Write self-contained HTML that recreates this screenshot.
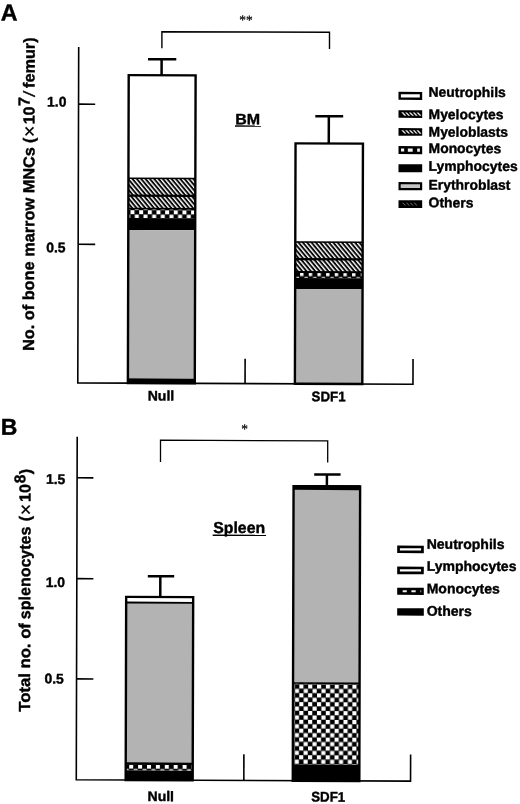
<!DOCTYPE html>
<html lang="en">
<head>
<meta charset="utf-8">
<title>Figure</title>
<style>
  html, body { margin: 0; padding: 0; background: #fff; }
  body { width: 520px; height: 804px; overflow: hidden; }
  svg { display: block; }
  text { font-family: "Liberation Sans", sans-serif; font-weight: bold; fill: #000; stroke: #000; stroke-width: 0.4px; stroke-linejoin: round; }
  .lg { font-size: 13.9px; }
  .tk { font-size: 13.9px; }
  .xl { font-size: 14px; }
  .ax { font-size: 16px; }
  .sup { font-size: 14px; }
  .ser { font-family: "Liberation Serif", serif; font-weight: normal; stroke-width: 0.25px; }
</style>
</head>
<body>
<svg width="520" height="804" viewBox="0 0 520 804">
  <defs>
    <pattern id="h1" width="3.34" height="3.34" patternUnits="userSpaceOnUse" patternTransform="translate(0 0) rotate(50)"><rect width="3.34" height="3.34" fill="#fff"/><rect width="3.34" height="1.937" fill="#0a0a0a"/></pattern>
    <pattern id="h2" width="3.34" height="3.34" patternUnits="userSpaceOnUse" patternTransform="translate(1.5 0) rotate(50)"><rect width="3.34" height="3.34" fill="#fff"/><rect width="3.34" height="1.937" fill="#0a0a0a"/></pattern>
    <pattern id="ckA1" x="129.99" y="210.71" width="8.66" height="8.66" patternUnits="userSpaceOnUse"><rect width="8.66" height="8.66" fill="#000"/><rect x="0" y="0" width="4.0" height="4.0" fill="#fff"/><rect x="4.33" y="4.33" width="4.0" height="4.0" fill="#fff"/></pattern>
    <pattern id="ckA2" x="299.76" y="272.53" width="8.66" height="8.66" patternUnits="userSpaceOnUse"><rect width="8.66" height="8.66" fill="#000"/><rect x="0" y="0" width="3.4" height="3.4" fill="#fff"/><rect x="4.33" y="4.33" width="3.4" height="3.4" fill="#fff"/></pattern>
    <pattern id="ckB1" x="130.18" y="765.12" width="8.9" height="8.9" patternUnits="userSpaceOnUse"><rect width="8.9" height="8.9" fill="#000"/><rect x="0" y="0" width="4.0" height="4.0" fill="#fff"/><rect x="4.45" y="4.45" width="4.0" height="4.0" fill="#fff"/></pattern>
    <pattern id="ckB2" x="300.09" y="684.26" width="8.85" height="8.85" patternUnits="userSpaceOnUse"><rect width="8.85" height="8.85" fill="#000"/><rect x="0" y="0" width="4.15" height="4.15" fill="#fff"/><rect x="4.425" y="4.425" width="4.15" height="4.15" fill="#fff"/></pattern>
  </defs>
  <g transform="matrix(1 0.004 -0.0027 1 1.0854 -1.0400)">

  <!-- ============ Panel A ============ -->
  <text x="-0.24" y="21.50" font-size="23.2">A</text>
  <g stroke="#000" stroke-width="1.6" fill="none">
    <path d="M77.74 47.63 V383.6 H412.92 V358.39"/>
    <path d="M77.74 104.89 H94.40"/>
    <path d="M77.74 244.99 H94.77"/>
    <path d="M245.01 358.71 V383.6"/>
    <path d="M160.95 48.69 L160.90 32.09 L328.50 31.92 L328.55 48.62" stroke-width="1.4"/>
  </g>
  <text class="ser" x="244.87" y="24.46" font-size="13.4" text-anchor="middle">**</text>
  <text class="tk" x="46.29" y="107.32">1.0</text>
  <text class="tk" x="45.88" y="253.02">0.5</text>
  <g class="ax" transform="translate(33.75 352.02) rotate(-90)">
    <text x="0" y="0" textLength="204.0" lengthAdjust="spacingAndGlyphs">No. of bone marrow MNCs</text>
    <text x="208.1" y="0">(</text>
    <text x="214.0" y="1.6" style="font-size:19.5px;font-weight:normal;stroke-width:0.3px">×</text>
    <text x="226.8" y="0">10</text>
    <text x="245.2" y="-5.0">7</text>
    <text transform="translate(254.2 0.3) skewX(-9)" style="font-size:16px;font-weight:normal;stroke-width:0.5px">/</text>
    <text x="263.1" y="0" textLength="50.6" lengthAdjust="spacingAndGlyphs">femur)</text>
  </g>
  <text x="234.54" y="124.35" font-size="15" textLength="24.9" lengthAdjust="spacingAndGlyphs">BM</text>
  <path d="M234.25 126.15 H260.25" stroke="#000" stroke-width="1.4"/>

  <g>
    <rect x="127.83" y="75.69" width="66.90" height="307.91" fill="#fff"/>
    <rect x="127.83" y="178.89" width="66.90" height="17.30" fill="url(#h1)"/>
    <rect x="127.83" y="196.19" width="66.90" height="12.70" fill="url(#h2)"/>
    <rect x="127.83" y="208.89" width="66.90" height="9.70" fill="url(#ckA1)"/>
    <rect x="127.83" y="218.59" width="66.90" height="12.00" fill="#000"/>
    <rect x="127.83" y="230.59" width="66.90" height="148.30" fill="#b3b3b3"/>
    <rect x="127.83" y="378.89" width="66.90" height="4.71" fill="#000"/>
    <path d="M127.83 178.79 H194.73" stroke="#000" stroke-width="1.4"/>
    <path d="M127.83 196.19 H194.73" stroke="#000" stroke-width="2.3"/>
    <path d="M127.83 209.09 H194.73" stroke="#000" stroke-width="1.6"/>
    <rect x="127.83" y="75.69" width="66.90" height="307.91" fill="none" stroke="#000" stroke-width="2.4"/>
    <path d="M160.70 75.69 V59.69 M147.07 59.69 H175.37" stroke="#000" stroke-width="2.5" fill="none"/>
  </g>
  <g>
    <rect x="294.85" y="143.21" width="67.40" height="240.39" fill="#fff"/>
    <rect x="294.85" y="241.71" width="67.40" height="17.30" fill="url(#h1)"/>
    <rect x="294.85" y="259.01" width="67.40" height="12.90" fill="url(#h2)"/>
    <rect x="294.85" y="271.91" width="67.40" height="6.00" fill="url(#ckA2)"/>
    <rect x="294.85" y="277.91" width="67.40" height="11.00" fill="#000"/>
    <rect x="294.85" y="288.91" width="67.40" height="94.69" fill="#b3b3b3"/>
    <path d="M294.85 241.91 H362.25" stroke="#000" stroke-width="1.5"/>
    <path d="M294.85 259.01 H362.25" stroke="#000" stroke-width="2.3"/>
    <path d="M294.85 271.91 H362.25" stroke="#000" stroke-width="2.0"/>
    <rect x="294.85" y="143.21" width="67.40" height="240.39" fill="none" stroke="#000" stroke-width="2.4"/>
    <path d="M328.07 143.21 V115.96 M314.53 115.96 H342.43" stroke="#000" stroke-width="2.5" fill="none"/>
  </g>
  <text class="xl" x="160.98" y="400.90" text-anchor="middle">Null</text>
  <text class="xl" x="328.58" y="400.93" text-anchor="middle" textLength="34" lengthAdjust="spacingAndGlyphs">SDF1</text>

  <g>
    <rect x="397.67" y="91.30" width="23.70" height="8.00" fill="#000"/><rect x="400.07" y="93.70" width="18.90" height="3.20" fill="#fff"/>
    <rect x="397.72" y="109.60" width="23.70" height="7.70" fill="#000"/><path d="M400.52 111.80 h1.9 l3.13 3.30 h-1.9 z" fill="#e8e8e8"/><path d="M404.32 111.80 h1.9 l3.13 3.30 h-1.9 z" fill="#e8e8e8"/><path d="M408.12 111.80 h1.9 l3.13 3.30 h-1.9 z" fill="#e8e8e8"/><path d="M411.92 111.80 h1.9 l3.13 3.30 h-1.9 z" fill="#e8e8e8"/><path d="M415.72 111.80 h1.9 l3.13 3.30 h-1.9 z" fill="#e8e8e8"/>
    <rect x="397.77" y="127.50" width="23.70" height="7.70" fill="#000"/><path d="M400.57 129.70 h1.9 l3.13 3.30 h-1.9 z" fill="#e8e8e8"/><path d="M404.37 129.70 h1.9 l3.13 3.30 h-1.9 z" fill="#e8e8e8"/><path d="M408.17 129.70 h1.9 l3.13 3.30 h-1.9 z" fill="#e8e8e8"/><path d="M411.97 129.70 h1.9 l3.13 3.30 h-1.9 z" fill="#e8e8e8"/><path d="M415.77 129.70 h1.9 l3.13 3.30 h-1.9 z" fill="#e8e8e8"/>
    <rect x="397.82" y="145.50" width="23.70" height="8.00" fill="#000"/><rect x="400.32" y="147.95" width="3.20" height="3.10" fill="#f4f4f4"/><rect x="407.12" y="147.95" width="4.90" height="3.10" fill="#f4f4f4"/><rect x="416.52" y="147.95" width="2.70" height="3.10" fill="#f4f4f4"/>
    <rect x="397.87" y="163.60" width="23.70" height="8.00" fill="#000"/>
    <rect x="397.92" y="181.50" width="23.70" height="8.10" fill="#000"/><rect x="400.12" y="183.70" width="19.30" height="3.70" fill="#c4c4c4"/>
    <rect x="397.97" y="199.60" width="23.70" height="7.80" fill="#000"/><path d="M401.67 202.20 h1.2 l2.72 2.60 h-1.2 z" fill="#666"/><path d="M405.47 202.20 h1.2 l2.72 2.60 h-1.2 z" fill="#666"/><path d="M409.27 202.20 h1.2 l2.72 2.60 h-1.2 z" fill="#666"/><path d="M413.07 202.20 h1.2 l2.72 2.60 h-1.2 z" fill="#666"/>
  </g>
  <g class="lg">
    <text x="427.76" y="96.11">Neutrophils</text>
    <text x="427.82" y="118.41">Myelocytes</text>
    <text x="427.87" y="135.91">Myeloblasts</text>
    <text x="427.91" y="152.31">Monocytes</text>
    <text x="427.96" y="170.01">Lymphocytes</text>
    <text x="428.01" y="188.81">Erythroblast</text>
    <text x="428.06" y="206.61">Others</text>
  </g>

  <!-- ============ Panel B ============ -->
  <text x="0.78" y="435.80" font-size="23">B</text>
  <g stroke="#000" stroke-width="1.6" fill="none">
    <path d="M77.3 437.53 V780.55 H411.57 V753.90"/>
    <path d="M77.3 478.50 H93.61"/>
    <path d="M77.3 579.40 H93.88"/>
    <path d="M77.3 679.60 H94.15"/>
    <path d="M244.85 754.26 V780.55"/>
    <path d="M160.66 462.30 L160.60 440.60 L327.81 440.63 L327.86 462.23" stroke-width="1.3"/>
  </g>
  <text class="ser" x="244.77" y="433.26" font-size="13.4" text-anchor="middle">*</text>
  <text class="tk" x="46.21" y="484.72">1.5</text>
  <text class="tk" x="46.19" y="587.92">1.0</text>
  <text class="tk" x="45.25" y="684.22">0.5</text>
  <g class="ax" transform="translate(30.83 712.64) rotate(-90)">
    <text x="0" y="0" textLength="88.6" lengthAdjust="spacingAndGlyphs">Total no. of</text>
    <text x="92.6" y="0">splenocytes</text>
    <text x="190.4" y="0">(</text>
    <text x="196.4" y="1.6" style="font-size:19.5px;font-weight:normal;stroke-width:0.3px">×</text>
    <text x="209.8" y="0">10</text>
    <text x="228.5" y="-5.4" font-size="15.5">8</text>
    <text x="237.4" y="0">)</text>
  </g>
  <text x="213.64" y="533.08" font-size="15.8">Spleen</text>
  <path d="M213.06 535.38 H266.36" stroke="#000" stroke-width="1.4"/>

  <g>
    <rect x="126.70" y="597.40" width="67.00" height="183.15" fill="#fff"/>
    <rect x="126.70" y="603.00" width="67.00" height="160.60" fill="#b3b3b3"/>
    <rect x="126.70" y="763.60" width="67.00" height="7.30" fill="url(#ckB1)"/>
    <rect x="126.70" y="770.90" width="67.00" height="9.65" fill="#000"/>
    <path d="M126.70 603.10 H193.70" stroke="#000" stroke-width="1.9"/>
    <path d="M126.70 764.10 H193.70" stroke="#000" stroke-width="2.4"/>
    <rect x="126.70" y="597.40" width="67.00" height="183.15" fill="none" stroke="#000" stroke-width="2.4"/>
    <path d="M160.80 597.40 V576.60 M148.27 576.60 H174.67" stroke="#000" stroke-width="2.5" fill="none"/>
  </g>
  <g>
    <rect x="293.80" y="486.13" width="66.55" height="294.42" fill="#fff"/>
    <rect x="293.80" y="486.13" width="66.55" height="196.60" fill="#b3b3b3"/>
    <rect x="293.80" y="484.93" width="66.55" height="4.80" fill="#000"/>
    <rect x="293.80" y="682.73" width="66.55" height="81.50" fill="url(#ckB2)"/>
    <rect x="293.80" y="764.23" width="66.55" height="16.32" fill="#000"/>
    <path d="M293.80 682.93 H360.35" stroke="#000" stroke-width="1.6"/>
    <rect x="293.80" y="486.13" width="66.55" height="294.42" fill="none" stroke="#000" stroke-width="2.4"/>
    <path d="M327.11 486.13 V474.23 M314.40 474.23 H340.80" stroke="#000" stroke-width="2.5" fill="none"/>
  </g>
  <text class="xl" x="161.86" y="801.50" text-anchor="middle">Null</text>
  <text class="xl" x="329.27" y="801.33" text-anchor="middle" textLength="34" lengthAdjust="spacingAndGlyphs">SDF1</text>

  <g>
    <rect x="397.60" y="545.00" width="26.60" height="7.50" fill="#000"/><rect x="400.30" y="547.60" width="21.20" height="2.30" fill="#fff"/>
    <rect x="397.65" y="566.00" width="26.60" height="7.60" fill="#000"/><rect x="400.35" y="568.65" width="21.20" height="2.30" fill="#fff"/>
    <rect x="397.71" y="587.10" width="26.60" height="7.20" fill="#000"/><rect x="403.21" y="589.70" width="4.10" height="2.00" fill="#f0f0f0"/><rect x="411.91" y="589.70" width="4.30" height="2.00" fill="#f0f0f0"/><rect x="420.51" y="589.70" width="1.30" height="2.00" fill="#777"/>
    <rect x="397.77" y="607.60" width="26.60" height="7.40" fill="#000"/>
  </g>
  <g class="lg">
    <text x="427.08" y="548.11" font-size="14">Neutrophils</text>
    <text x="427.14" y="570.11" font-size="14">Lymphocytes</text>
    <text x="427.20" y="592.61" font-size="14">Monocytes</text>
    <text x="427.26" y="615.11" font-size="14">Others</text>
  </g>
  </g>
</svg>
</body>
</html>
